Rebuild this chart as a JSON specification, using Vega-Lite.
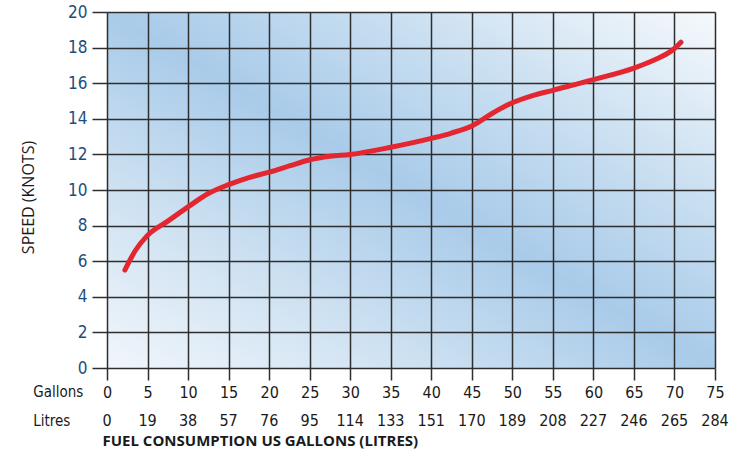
{
  "$schema": "https://vega.github.io/schema/vega-lite/v6.json",
  "width": 608,
  "height": 356,
  "autosize": {"type": "none"},
  "padding": {"left": 107, "top": 12, "right": 17, "bottom": 88},
  "background": "#ffffff",
  "config": {
    "font": "DejaVu Sans Condensed, Roboto Condensed, Roboto",
    "axisY": {
      "title": "SPEED (KNOTS)",
      "titleFont": "Open Sans", "titleFontSize": 16, "titleFontWeight": "normal", "titleColor": "#1a1a1a",
      "titleX": -79, "titleY": 185, "titleAlign": "center", "titleBaseline": "middle", "titleAngle": -90,
      "domain": false,
      "grid": true, "gridColor": "#2e2e2e", "gridWidth": 1.5, "gridOpacity": 1,
      "ticks": true, "tickSize": 15, "tickColor": "#2e2e2e", "tickWidth": 1.5,
      "labelFontSize": 17, "labelColor": "#1d4e7b", "labelPadding": 5, "labelFlush": false, "labelOverlap": false
    },
    "axisX": {
      "titleFont": "Open Sans", "titleFontSize": 15, "titleFontWeight": "bold", "titleColor": "#1a1a1a",
      "titleAnchor": "start", "titleAlign": "left", "titleX": -5, "titleY": 72, "titleBaseline": "middle",
      "domain": false,
      "grid": true, "gridColor": "#2e2e2e", "gridWidth": 1.5, "gridOpacity": 1,
      "ticks": true, "tickSize": 12, "tickColor": "#2e2e2e", "tickWidth": 1.5,
      "labelFontSize": 16, "labelColor": "#1a1a1a", "labelPadding": 4, "labelBaseline": "top", "labelFlush": false, "labelOverlap": false
    },
    "view": {
      "stroke": null,
      "fill": {
        "gradient": "linear",
        "x1": 0, "y1": 1, "x2": 1, "y2": 0,
        "stops": [
          {"offset": 0, "color": "#f1f6fb"},
          {"offset": 0.25, "color": "#cfe2f2"},
          {"offset": 0.5, "color": "#a9cbe9"},
          {"offset": 0.75, "color": "#cde1f2"},
          {"offset": 1, "color": "#f6f9fc"}
        ]
      }
    }
  },
  "layer": [
    {
      "data": {"values": [
        {"gallons": 2.2, "knots": 5.5},
        {"gallons": 3.5, "knots": 6.6},
        {"gallons": 5, "knots": 7.45},
        {"gallons": 7.5, "knots": 8.25},
        {"gallons": 10, "knots": 9.05},
        {"gallons": 12.5, "knots": 9.8},
        {"gallons": 15, "knots": 10.3},
        {"gallons": 17.5, "knots": 10.7},
        {"gallons": 20, "knots": 11.0},
        {"gallons": 22.5, "knots": 11.35},
        {"gallons": 25, "knots": 11.7},
        {"gallons": 27.5, "knots": 11.9},
        {"gallons": 30, "knots": 12.0},
        {"gallons": 35, "knots": 12.4},
        {"gallons": 40, "knots": 12.9},
        {"gallons": 42.5, "knots": 13.2},
        {"gallons": 45, "knots": 13.6},
        {"gallons": 47.5, "knots": 14.3},
        {"gallons": 50, "knots": 14.9},
        {"gallons": 52.5, "knots": 15.3},
        {"gallons": 55, "knots": 15.6},
        {"gallons": 60, "knots": 16.2},
        {"gallons": 65, "knots": 16.85},
        {"gallons": 67.5, "knots": 17.3},
        {"gallons": 70, "knots": 17.95},
        {"gallons": 70.8, "knots": 18.3}
      ]},
      "mark": {"type": "line", "color": "#e3262f", "strokeWidth": 5, "strokeCap": "round", "strokeJoin": "round", "interpolate": "monotone"},
      "encoding": {
        "x": {
          "field": "gallons", "type": "quantitative",
          "scale": {"domain": [0, 75], "nice": false, "zero": false},
          "axis": {"values": [0,5,10,15,20,25,30,35,40,45,50,55,60,65,70,75], "title": "FUEL CONSUMPTION US GALLONS (LITRES)"}
        },
        "y": {
          "field": "knots", "type": "quantitative",
          "scale": {"domain": [0, 20], "nice": false, "zero": false},
          "axis": {"values": [0,2,4,6,8,10,12,14,16,18,20], "title": "SPEED (KNOTS)"}
        }
      }
    },
    {
      "data": {"values": [
        {"gallons": 0, "litres": "0"},
        {"gallons": 5, "litres": "19"},
        {"gallons": 10, "litres": "38"},
        {"gallons": 15, "litres": "57"},
        {"gallons": 20, "litres": "76"},
        {"gallons": 25, "litres": "95"},
        {"gallons": 30, "litres": "114"},
        {"gallons": 35, "litres": "133"},
        {"gallons": 40, "litres": "151"},
        {"gallons": 45, "litres": "170"},
        {"gallons": 50, "litres": "189"},
        {"gallons": 55, "litres": "208"},
        {"gallons": 60, "litres": "227"},
        {"gallons": 65, "litres": "246"},
        {"gallons": 70, "litres": "265"},
        {"gallons": 75, "litres": "284"}
      ]},
      "mark": {"type": "text", "fontSize": 16, "color": "#1a1a1a", "baseline": "middle", "align": "center"},
      "encoding": {
        "x": {"field": "gallons", "type": "quantitative", "axis": {"values": [0,5,10,15,20,25,30,35,40,45,50,55,60,65,70,75], "title": "FUEL CONSUMPTION US GALLONS (LITRES)"}},
        "y": {"datum": -2.95, "type": "quantitative", "axis": {"values": [0,2,4,6,8,10,12,14,16,18,20], "title": "SPEED (KNOTS)"}},
        "text": {"field": "litres"}
      }
    },
    {
      "data": {"values": [{"row": "Gallons", "pos": -1.35}, {"row": "Litres", "pos": -2.95}]},
      "mark": {"type": "text", "fontSize": 15, "color": "#1a1a1a", "baseline": "middle", "align": "left"},
      "encoding": {
        "x": {"datum": -9.1, "type": "quantitative", "axis": {"values": [0,5,10,15,20,25,30,35,40,45,50,55,60,65,70,75], "title": "FUEL CONSUMPTION US GALLONS (LITRES)"}},
        "y": {"field": "pos", "type": "quantitative", "axis": {"values": [0,2,4,6,8,10,12,14,16,18,20], "title": "SPEED (KNOTS)"}},
        "text": {"field": "row"}
      }
    },
    {
      "mark": {"type": "rule", "color": "#c8c8c8", "strokeWidth": 1},
      "encoding": {
        "x": {"datum": -9.1, "type": "quantitative", "axis": {"values": [0,5,10,15,20,25,30,35,40,45,50,55,60,65,70,75], "title": "FUEL CONSUMPTION US GALLONS (LITRES)"}},
        "x2": {"datum": 75},
        "y": {"datum": -2.2, "type": "quantitative", "axis": {"values": [0,2,4,6,8,10,12,14,16,18,20], "title": "SPEED (KNOTS)"}}
      }
    }
  ]
}
